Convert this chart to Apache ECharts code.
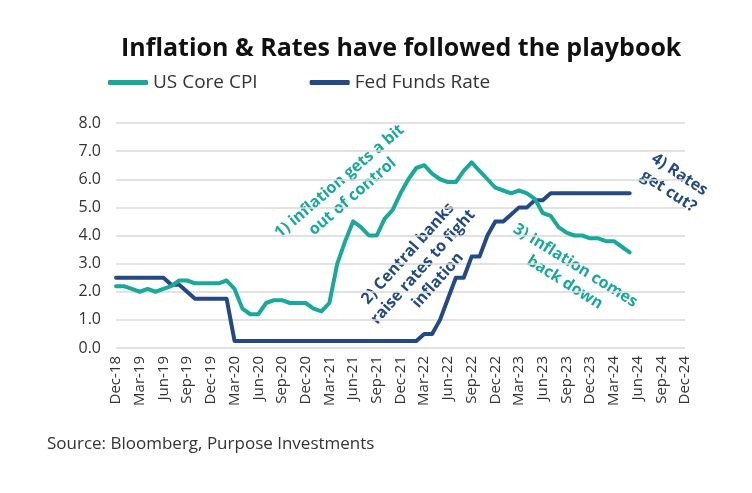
<!DOCTYPE html>
<html><head><meta charset="utf-8">
<script src="https://cdn.jsdelivr.net/npm/echarts@6/dist/echarts.min.js"></script>
<style>html,body{margin:0;padding:0;background:#fff}#c{width:752px;height:493px}</style>
</head><body><div id="c"></div>
<script>
const categories = ["Dec-18","Jan-19","Feb-19","Mar-19","Apr-19","May-19","Jun-19","Jul-19","Aug-19","Sep-19","Oct-19","Nov-19",
"Dec-19","Jan-20","Feb-20","Mar-20","Apr-20","May-20","Jun-20","Jul-20","Aug-20","Sep-20","Oct-20","Nov-20",
"Dec-20","Jan-21","Feb-21","Mar-21","Apr-21","May-21","Jun-21","Jul-21","Aug-21","Sep-21","Oct-21","Nov-21",
"Dec-21","Jan-22","Feb-22","Mar-22","Apr-22","May-22","Jun-22","Jul-22","Aug-22","Sep-22","Oct-22","Nov-22",
"Dec-22","Jan-23","Feb-23","Mar-23","Apr-23","May-23","Jun-23","Jul-23","Aug-23","Sep-23","Oct-23","Nov-23",
"Dec-23","Jan-24","Feb-24","Mar-24","Apr-24","May-24","Jun-24","Jul-24","Aug-24","Sep-24","Oct-24","Nov-24","Dec-24"];
const coreCPI = [2.2,2.2,2.1,2.0,2.1,2.0,2.1,2.2,2.4,2.4,2.3,2.3,2.3,
2.3,2.4,2.1,1.4,1.2,1.2,1.6,1.7,1.7,1.6,1.6,1.6,1.4,
1.3,1.6,3.0,3.8,4.5,4.3,4.0,4.0,4.6,4.9,5.5,6.0,
6.4,6.5,6.2,6.0,5.9,5.9,6.3,6.6,6.3,6.0,5.7,5.6,
5.5,5.6,5.5,5.3,4.8,4.7,4.3,4.1,4.0,4.0,3.9,3.9,
3.8,3.8,3.6,3.4];
const fedFunds = [2.5,2.5,2.5,2.5,2.5,2.5,2.5,2.25,2.25,2.0,1.75,1.75,1.75,1.75,1.75,
0.25,0.25,0.25,0.25,0.25,0.25,0.25,0.25,0.25,0.25,0.25,0.25,0.25,0.25,0.25,0.25,0.25,0.25,0.25,0.25,0.25,0.25,0.25,0.25,
0.5,0.5,1.0,1.75,2.5,2.5,3.25,3.25,4.0,4.5,4.5,4.75,5.0,5.0,5.25,5.25,
5.5,5.5,5.5,5.5,5.5,5.5,5.5,5.5,5.5,5.5,5.5];
const yTicks = {min:0,max:8,interval:1};
const TEAL = '#19a99a', NAVY = '#234a86';
const FONT = 'Open Sans';
const AF = 'bold 16px "Open Sans"';

const chart = echarts.init(document.getElementById('c'), null, {renderer:'canvas'});
chart.setOption({
  animation:false,
  textStyle:{fontFamily:FONT},
  title:{text:'Inflation & Rates have followed the playbook',left:116,top:31,
    textStyle:{fontFamily:FONT,fontSize:25,fontWeight:'bold',color:'#111'}},
  legend:{left:103,top:68,itemWidth:40,itemHeight:5,itemGap:52,icon:'roundRect',
    textStyle:{fontFamily:FONT,fontSize:19,color:'#333'},
    data:['US Core CPI','Fed Funds Rate']},
  grid:{left:116,right:67,top:123,bottom:145,containLabel:false},
  xAxis:{type:'category',data:categories,boundaryGap:false,
    axisLine:{show:false},axisTick:{show:false},
    axisLabel:{interval:2,rotate:90,fontSize:15,color:'#333',margin:8,fontFamily:FONT}},
  yAxis:{type:'value',min:yTicks.min,max:yTicks.max,interval:yTicks.interval,
    axisLabel:{formatter:v=>v.toFixed(1),fontSize:16,color:'#333',margin:15,fontFamily:FONT},
    splitLine:{lineStyle:{color:'#d9d9d9',width:1.5}}},
  series:[
    {name:'US Core CPI',type:'line',data:coreCPI,showSymbol:false,symbol:'none',
      lineStyle:{color:TEAL,width:4,cap:'round',join:'round'},itemStyle:{color:TEAL},z:3},
    {name:'Fed Funds Rate',type:'line',data:fedFunds,showSymbol:false,symbol:'none',
      lineStyle:{color:NAVY,width:4,cap:'round',join:'round'},itemStyle:{color:NAVY},z:2}
  ],
  graphic:[
    {type:'text',x:346,y:189,rotation:0.71,style:{text:'1) inflation gets a bit\nout of control',
      fill:TEAL,font:AF,align:'center',verticalAlign:'middle',lineHeight:20}},
    {type:'text',x:423,y:267,rotation:0.84,style:{text:'2) Central banks\nraise rates to fight\ninflation',
      fill:NAVY,font:AF,align:'center',verticalAlign:'middle',lineHeight:20}},
    {type:'text',x:570,y:274,rotation:-0.56,style:{text:'3) Inflation comes\nback down',
      fill:TEAL,font:AF,align:'center',verticalAlign:'middle',lineHeight:20}},
    {type:'text',x:674,y:183,rotation:-0.58,style:{text:'4) Rates\nget cut?',
      fill:NAVY,font:AF,align:'center',verticalAlign:'middle',lineHeight:20}},
    {type:'text',left:47,top:436,style:{text:'Source: Bloomberg, Purpose Investments',
      fill:'#333',font:'17px "Open Sans"'}}
  ]
});
</script></body></html>
